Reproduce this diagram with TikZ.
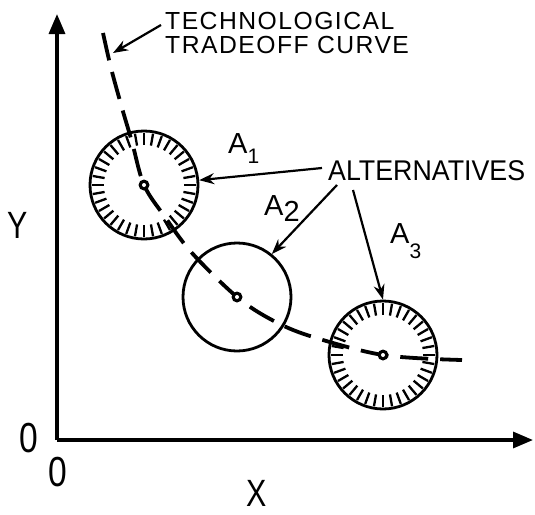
\documentclass[tikz,border=0pt]{standalone}
\usepackage{fontspec}
\setmainfont{Liberation Sans}
\newfontfamily\tradefont[LetterSpace=6]{Liberation Sans}
\newfontfamily\altfont[FakeStretch=0.94]{Liberation Sans}
\newfontfamily\bigfont[FakeStretch=0.8]{Liberation Sans}
\usetikzlibrary{arrows.meta,calc}
\tikzset{
  axis/.style={line width=3.3pt,-{Triangle[length=20pt,width=16pt]}},
  circ/.style={line width=2.8pt},
  tradeoff/.style={line width=3.8pt,dash pattern=on 28pt off 12pt},
  pointer/.style={line width=2.2pt,-{Stealth[length=15pt,width=11pt]}},
  tlbl/.style={font=\tradefont\fontsize{24.7}{24}\selectfont,inner sep=0pt,anchor=base west},
  albl/.style={font=\altfont\fontsize{28.5}{30}\selectfont,inner sep=0pt,anchor=base west},
  alab/.style={font=\fontsize{29}{30}\selectfont,inner sep=0pt,anchor=base west},
  big/.style={font=\bigfont\fontsize{38}{40}\selectfont,inner sep=0pt,anchor=base},
  zero/.style={font=\bigfont\fontsize{42}{44}\selectfont,inner sep=0pt},
  tick/.style={line width=2.3pt},
}
\begin{document}
\begin{tikzpicture}[x=1pt,y=-1pt]
\useasboundingbox (0,0) rectangle (535,514);
% axes
\coordinate (O) at (57,440);
\coordinate (ytop) at (57,14);
\coordinate (xend) at (533,440);
\draw[axis] (O) -- (ytop);
\draw[axis] (O) -- (xend);
\node[big] (ylab) at (17.5,238) {Y};
\node[big] (xlab) at (257,506) {X};
\node[zero] (o1) at (28.5,438) {0};
\node[zero] (o2) at (58,472) {0};
% circles
\node[circ,draw,circle,minimum size=108pt,inner sep=0pt] (c1) at (144,185) {};
\node[circ,draw,circle,minimum size=108pt,inner sep=0pt] (c2) at (237,297) {};
\node[circ,draw,circle,minimum size=108pt,inner sep=0pt] (c3) at (383,355) {};
\foreach \a in {0,10,...,350}{
  \draw[tick] ($(c1)+(\a:52)$) -- ($(c1)+(\a:40)$);
  \draw[tick] ($(c3)+(\a:52)$) -- ($(c3)+(\a:40)$);
}
% tradeoff curve
\draw[tradeoff] plot[smooth,tension=0.55] coordinates {(103,33) (111,68) (122,108) (132,142) (144,185) (165,217) (192,253) (237,297) (272,320) (310,336) (383,355) (462,360)};
\foreach \c in {c1,c2,c3}{
  \fill (\c) circle (5.5pt);
  \fill[white] (\c) circle (2pt);
}
% labels
\node[tlbl] (tt1) at (165,29) {TECHNOLOGICAL};
\node[tlbl] (tt2) at (165,53) {TRADEOFF CURVE};
\coordinate (curvept) at (113,53);
\draw[pointer] ($(tt1.base west)+(-4,-4)$) -- (curvept);
\node[albl] (alt) at (328,180) {ALTERNATIVES};
\node[alab] (a1) at (228,153) {A\raisebox{-10pt}{\fontsize{21}{22}\selectfont 1}};
\node[alab] (a2) at (264,215) {A\raisebox{-6pt}{2}};
\node[alab] (a3) at (390,243) {A\raisebox{-15pt}{\fontsize{21}{22}\selectfont 3}};
\draw[pointer] ($(alt.base west)+(-6,-12)$) -- (c1.5);
\draw[pointer] ($(alt.base west)+(9,5)$) -- (c2.51);
\draw[pointer] ($(alt.base west)+(25,10)$) -- (c3.north);
\end{tikzpicture}
\end{document}
